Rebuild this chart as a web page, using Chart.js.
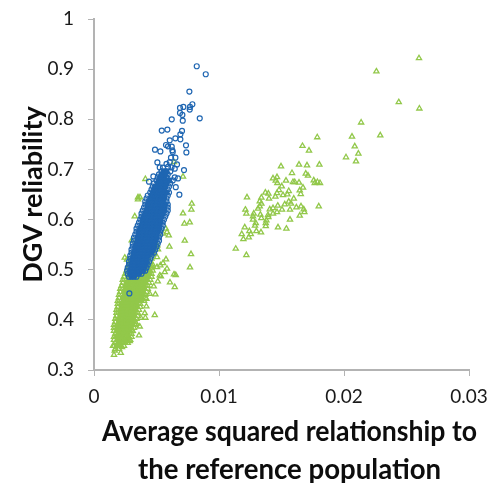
<!DOCTYPE html>
<html><head><meta charset="utf-8">
<script src="https://cdn.jsdelivr.net/npm/chart.js@4"></script>
<style>html,body{margin:0;padding:0;background:#fff}canvas{display:block}</style>
</head><body><div style="width:501px;height:483px"><canvas id="c" width="501" height="483"></canvas></div>
<script>
const xTickLabels = ['0','0.01','0.02','0.03'];
const yTickLabels = ['0.3','0.4','0.5','0.6','0.7','0.8','0.9','1'];
const xTitle = ['Average squared relationship to','the reference population'];
const yTitle = 'DGV reliability';

// Green series, dense part: reliability -> relationship values read along each row
const greenRows = [
[.342,[.0017,.0020]],
[.348,[.0016,.0019,.0021,.0024]],
[.354,[.0017,.0019,.0022,.0025,.0027]],
[.360,[.0016,.0019,.0021,.0024,.0026,.0029]],
[.366,[.0016,.0018,.0021,.0023,.0026,.0028,.0030]],
[.372,[.0017,.0019,.0022,.0025,.0027,.0030]],
[.378,[.0016,.0018,.0021,.0024,.0026,.0029,.0031]],
[.384,[.0016,.0019,.0022,.0024,.0027,.0030,.0032]],
[.390,[.0016,.0019,.0022,.0025,.0028,.0030,.0033]],
[.396,[.0017,.0020,.0023,.0026,.0028,.0031,.0033]],
[.402,[.0017,.0020,.0023,.0026,.0029,.0032,.0034]],
[.408,[.0018,.0021,.0024,.0026,.0029,.0032,.0035]],
[.414,[.0018,.0021,.0024,.0027,.0030,.0032,.0035]],
[.420,[.0018,.0021,.0024,.0027,.0030,.0033,.0036]],
[.426,[.0019,.0022,.0025,.0028,.0031,.0034,.0037]],
[.432,[.0019,.0022,.0025,.0028,.0031,.0034,.0037]],
[.438,[.0019,.0023,.0026,.0029,.0032,.0035,.0038,.0040]],
[.444,[.0020,.0023,.0026,.0029,.0032,.0035,.0038,.0041]],
[.450,[.0020,.0024,.0027,.0030,.0033,.0036,.0039,.0041]],
[.456,[.0021,.0024,.0027,.0030,.0033,.0036,.0039,.0042]],
[.462,[.0021,.0025,.0028,.0031,.0034,.0037,.0040,.0043]],
[.468,[.0022,.0025,.0028,.0031,.0034,.0037,.0040,.0043]],
[.474,[.0023,.0026,.0029,.0032,.0035,.0038,.0041,.0044]],
[.480,[.0023,.0027,.0030,.0033,.0036,.0039,.0042,.0045]],
[.486,[.0024,.0028,.0031,.0034,.0037,.0040,.0043,.0046]],
[.492,[.0025,.0029,.0032,.0035,.0038,.0041,.0044,.0046]],
[.498,[.0026,.0030,.0034,.0038,.0042,.0045,.0047]],
[.504,[.0027,.0031,.0035,.0039,.0043,.0046]],
[.510,[.0028,.0032,.0036,.0040,.0044,.0047]],
[.516,[.0029,.0033,.0037,.0041,.0045]],
[.522,[.0030,.0034,.0038,.0042,.0046]],
[.535,[.0032,.0036,.0040,.0044,.0047]],
[.550,[.0034,.0038,.0042,.0046,.0049]],
[.570,[.0036,.0040,.0044,.0048]],
[.590,[.0039,.0043,.0047,.0051]]
];
// Green series, scattered points [relationship, reliability]
const greenScatter = [
[.026,.9218],[.02259,.8954],[.02438,.8341],[.02603,.8215],[.02137,.7936],[.01786,.7642],[.02064,.7654],[.0229,.7679],
[.01668,.7468],[.0172,.7375],[.02086,.746],[.02115,.7315],[.02016,.7242],[.02096,.7162],[.01496,.7062],[.0164,.7096],
[.01704,.7082],[.01803,.7096],[.01584,.6928],[.01694,.6916],[.01712,.6876],[.01432,.6822],[.01464,.6848],[.01454,.6776],
[.01467,.6729],[.01536,.6776],[.01592,.6749],[.01606,.6749],[.0164,.6736],[.01758,.6782],[.01766,.6729],[.01787,.6749],
[.01808,.6729],[.01502,.6663],[.0148,.6589],[.01672,.6637],[.01646,.6583],[.01558,.6569],[.01547,.6503],[.01464,.6529],
[.01512,.6489],[.01654,.6509],[.01371,.6537],[.01395,.6517],[.01451,.6457],[.014,.6417],[.01598,.6417],[.01224,.6443],
[.01339,.6437],[.01326,.6363],[.01339,.6317],[.01326,.6263],[.01312,.6217],[.01526,.6303],[.01558,.6357],[.01576,.6317],
[.0147,.6277],[.01432,.6229],[.01406,.6203],[.01504,.6197],[.01464,.615],[.01568,.6197],[.01619,.6244],[.01656,.6263],
[.01678,.6203],[.01683,.615],[.01798,.6263],[.01646,.6078],[.01568,.5998],[.01211,.6197],[.01219,.6118],[.01278,.6118],
[.01272,.6064],[.01331,.6098],[.01339,.603],[.01392,.6088],[.01432,.6118],[.01272,.5998],[.01294,.593],[.01288,.5878],
[.01379,.5984],[.01374,.593],[.01374,.587],[.01395,.605],[.01472,.5844],[.01539,.5818],[.01206,.5844],[.01182,.5711],
[.01243,.5771],[.01254,.5711],[.01299,.5771],[.01336,.5744],[.01238,.5645],[.01195,.5611],[.01134,.5419],[.01219,.5292],
[.00782,.6317],[.00712,.6124],[.00779,.6197],[.00723,.5918],[.00766,.5944],[.00574,.5818],[.00584,.575],[.00598,.5685],
[.00552,.5718],[.00726,.5579],[.00603,.5459],[.00507,.5485],[.00512,.5405],[.00776,.5311],[.00504,.5252],[.00467,.53],
[.00576,.5206],[.00246,.524],[.00264,.52],[.00326,.6064],[.00302,.5585],[.00552,.5132],[.00531,.5086],[.00464,.5072],
[.00504,.5052],[.00584,.502],[.00566,.4952],[.00768,.5046],[.00526,.4886],[.00535,.487],[.0064,.4906],[.00654,.4892],
[.0051,.4766],[.00608,.4746],[.00646,.4653],[.00478,.4667],[.00446,.4521],[.00491,.4507],[.00419,.4421],[.00419,.4267],
[.00486,.4094],[.00406,.4134],[.00411,.4042],[.00374,.4042],[.00339,.3922],[.00366,.3868],[.0036,.3689],[.00304,.3774],
[.00286,.3575],[.00224,.3455],[.00152,.3483],[.002,.3523],[.00166,.3389],[.0016,.3303],[.00214,.3343],[.00272,.3589],
[.00411,.6809],[.00712,.6856],[.00352,.6443],[.00368,.6443],[.00352,.6403],[.0064,.7148]
];
// Blue series, dense part
const blueRows = [
[.486,[.0028,.0030,.0032,.0034]],
[.492,[.0027,.0029,.0032,.0034,.0036,.0038]],
[.498,[.00265,.0029,.0031,.0034,.0036,.0039,.0041]],
[.504,[.0027,.0030,.0033,.0035,.0038,.0040,.0042]],
[.510,[.0028,.0030,.0033,.0036,.0038,.0041,.0043]],
[.516,[.0028,.0031,.0033,.0036,.0039,.0042,.0044]],
[.522,[.0029,.0031,.0034,.0037,.0039,.0042,.0045]],
[.528,[.0029,.0032,.0035,.0037,.0040,.0043,.0046]],
[.534,[.0030,.0032,.0035,.0038,.0041,.0043,.0046,.0048]],
[.540,[.0030,.0033,.0036,.0038,.0041,.0044,.0047,.0049]],
[.546,[.0031,.0033,.0036,.0039,.0042,.0045,.0048,.0050]],
[.552,[.0031,.0034,.0037,.0040,.0042,.0045,.0048,.0051]],
[.558,[.0032,.0035,.0037,.0040,.0043,.0046,.0049,.0052]],
[.564,[.0032,.0035,.0038,.0041,.0044,.0047,.0050,.0052]],
[.570,[.0033,.0036,.0039,.0042,.0044,.0047,.0050,.0053]],
[.576,[.0034,.0036,.0039,.0042,.0045,.0048,.0051,.0053]],
[.582,[.0034,.0037,.0040,.0043,.0046,.0049,.0052,.0054]],
[.588,[.0035,.0038,.0041,.0044,.0047,.0050,.0052,.0055]],
[.594,[.0036,.0039,.0042,.0044,.0047,.0050,.0053,.0055]],
[.600,[.0037,.0039,.0042,.0045,.0048,.0051,.0053,.0056]],
[.606,[.0038,.0040,.0043,.0046,.0049,.0052,.0054,.0057]],
[.612,[.0038,.0041,.0044,.0047,.0050,.0052,.0055,.0058]],
[.618,[.0039,.0042,.0045,.0047,.0050,.0053,.0056,.0059]],
[.624,[.0040,.0043,.0045,.0048,.0051,.0054,.0056,.0059]],
[.630,[.0041,.0043,.0046,.0049,.0052,.0054,.0057,.0059]],
[.636,[.0041,.0044,.0047,.0050,.0052,.0055,.0058]],
[.642,[.0042,.0045,.0048,.0050,.0053,.0056,.0058]],
[.648,[.0043,.0046,.0048,.0051,.0054,.0056,.0059]],
[.654,[.0045,.0047,.0050,.0052,.0055,.0058,.0060]],
[.660,[.0046,.0048,.0051,.0053,.0056,.0059]],
[.666,[.0047,.0049,.0052,.0054,.0057,.0060]],
[.672,[.0048,.0051,.0053,.0056,.0058,.0061]],
[.678,[.0050,.0052,.0054,.0057,.0060,.0063]],
[.684,[.0051,.0053,.0056,.0058]],
[.690,[.0052,.0054,.0057,.0059]],
[.696,[.0054,.0056,.0058,.0061]]
];
// Blue series, scattered points
const blueScatter = [
[.00822,.9058],[.00894,.8898],[.00763,.8553],[.00787,.83],[.00715,.8246],[.00688,.8226],[.00768,.8246],[.00766,.8193],
[.00688,.8126],[.00707,.8086],[.00622,.8],[.0071,.7973],[.00846,.802],[.00542,.7774],[.00587,.7794],[.00704,.7767],
[.00691,.77],[.00651,.762],[.00691,.76],[.00606,.758],[.00576,.7487],[.00592,.746],[.00622,.7454],[.00736,.748],
[.00488,.7394],[.00531,.736],[.00627,.738],[.0063,.735],[.00739,.734],[.00507,.714],[.00616,.7235],[.00651,.7235],
[.00606,.7147],[.00664,.71],[.0058,.711],[.00552,.7036],[.00646,.7015],[.0072,.6988],[.00526,.704],[.00592,.705],
[.0062,.704],[.00475,.686],[.0044,.6756],[.00646,.684],[.00672,.682],[.00654,.6647],[.00683,.6497],[.00283,.4527],[.00392,.498]
];

const CLEAR = 'rgba(0,0,0,0)';
const GREEN = '#92c84a', BLUE = '#1f66b2';
function build(rows, scatter, fill){
  const pts = [], bg = [];
  rows.forEach(r => r[1].forEach((x,i) => {
    pts.push({x:x, y:r[0]});
    bg.push(i>0 && i<r[1].length-1 ? fill : CLEAR);
  }));
  scatter.forEach(p => { pts.push({x:p[0], y:p[1]}); bg.push(CLEAR); });
  return {pts, bg};
}
const g = build(greenRows, greenScatter, GREEN), b = build(blueRows, blueScatter, BLUE);
const AXIS = '#b3b3b3';
new Chart(document.getElementById('c'), {
  type:'scatter',
  data:{datasets:[
    {label:'Green', data:g.pts, pointStyle:'triangle', pointRadius:3,
     borderColor:GREEN, pointBackgroundColor:g.bg, pointBorderWidth:1.3, order:2},
    {label:'Blue', data:b.pts, pointStyle:'circle', pointRadius:2.5,
     borderColor:BLUE, pointBackgroundColor:b.bg, pointBorderWidth:1.2, order:1}
  ]},
  options:{
    responsive:false, animation:false,
    layout:{padding:{top:19,right:32,bottom:0,left:0}},
    plugins:{legend:{display:false},tooltip:{enabled:false},title:{display:false}},
    scales:{
      x:{type:'linear',min:0,max:.03,
        grid:{display:true,drawOnChartArea:false,drawTicks:true,tickLength:6,color:AXIS,lineWidth:1},
        border:{display:true,color:AXIS,width:2},
        ticks:{stepSize:.01,padding:9,maxRotation:0,color:'#1a1a1a',font:{family:'Lato',size:19},
          callback:(v,i)=>xTickLabels[i]},
        title:{display:true,text:xTitle,color:'#0d0d0d',font:{family:'Lato',size:27.6,weight:'bold',lineHeight:1.38},padding:{top:0,bottom:0}},
        afterFit(s){
          s.height = 113; s.paddingLeft = 0; s.paddingRight = 0;
          if(!s._shifted){
            s._shifted = true;
            const orig = s.drawTitle;
            s.drawTitle = function(){
              const c = this.ctx; c.save(); c.translate(8,6); orig.call(this); c.restore();
            };
          }
        }
      },
      y:{type:'linear',min:.3,max:1,
        grid:{display:true,drawOnChartArea:false,drawTicks:true,tickLength:6,color:AXIS,lineWidth:1},
        border:{display:true,color:AXIS,width:2},
        ticks:{stepSize:.1,padding:14,color:'#1a1a1a',font:{family:'Lato',size:19},
          callback:(v,i)=>yTickLabels[i]},
        title:{display:true,text:yTitle,color:'#0d0d0d',font:{family:'Lato',size:27,weight:'bold'},padding:{top:17,bottom:0}},
        afterFit(s){ s.width = 94; s.paddingTop = 0; s.paddingBottom = 0; }
      }
    }
  }
});
</script></body></html>
